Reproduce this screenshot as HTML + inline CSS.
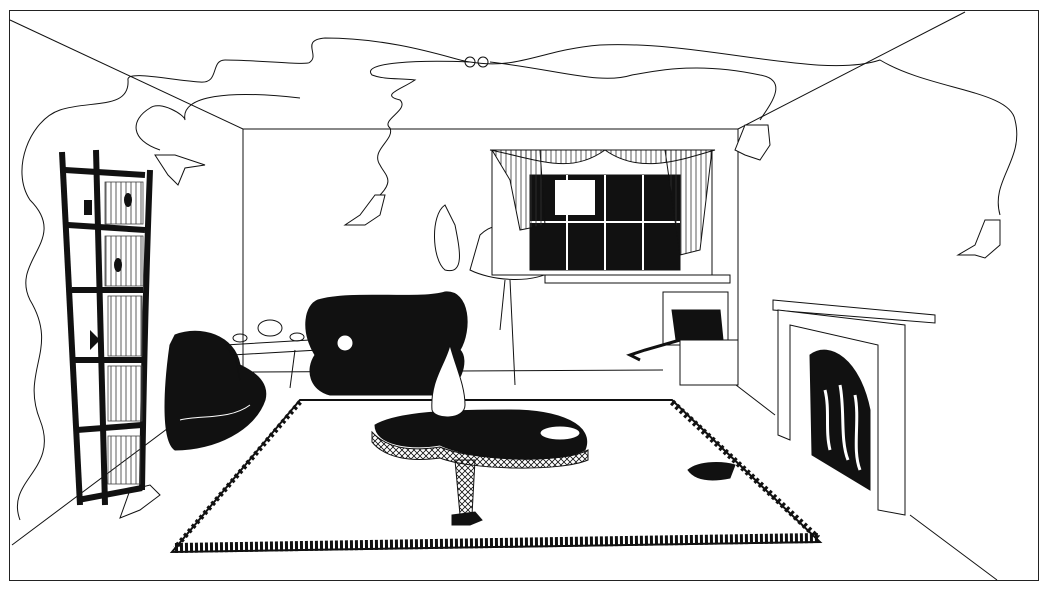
<!DOCTYPE html>
<html><head><meta charset="utf-8"><style>
html,body{margin:0;padding:0;background:#fff;}
svg{display:block;}
</style></head><body>
<svg width="1050" height="591" viewBox="0 0 1050 591" xmlns="http://www.w3.org/2000/svg" fill="none" stroke="#111" stroke-width="1">
<defs>
<pattern id="net" width="6" height="6" patternUnits="userSpaceOnUse"><path d="M0,0 L6,6 M6,0 L0,6" stroke="#111" stroke-width="0.8"/></pattern>
<pattern id="stripe" width="5" height="10" patternUnits="userSpaceOnUse"><line x1="1" y1="0" x2="1" y2="10" stroke="#333" stroke-width="0.8"/></pattern>
</defs>
<rect x="9.5" y="10.5" width="1029" height="570" stroke="#222"/>
<!-- room lines -->
<line x1="10" y1="20" x2="243" y2="129"/>
<line x1="965" y1="12" x2="738" y2="129"/>
<line x1="243" y1="129" x2="738" y2="129"/>
<line x1="243" y1="129" x2="243" y2="372"/>
<line x1="738" y1="129" x2="738" y2="385"/>
<line x1="243" y1="372" x2="663" y2="370"/>
<line x1="243" y1="372" x2="12" y2="545"/>
<line x1="736" y1="385" x2="775" y2="415"/>
<line x1="910" y1="515" x2="997" y2="580"/>
<!-- ceiling string -->
<path d="M20,520 C5,480 60,470 40,420 C20,370 60,350 30,300 C10,260 70,240 30,200 C10,170 30,120 60,110 C90,100 130,110 128,80 C126,70 170,80 200,82 C220,84 210,60 225,60 C260,60 310,66 310,62 C320,55 300,40 325,38 C400,38 460,62 470,62 C520,70 540,50 600,45 C700,40 820,80 880,60 C930,90 1010,90 1015,120 C1025,160 990,180 1000,215"/>
<path d="M160,150 C130,140 130,120 150,108 C160,100 185,115 185,120 C180,95 230,90 300,98"/>
<path d="M470,62 C420,60 360,62 372,75 C385,80 400,78 415,80 C400,90 380,95 400,100 C410,110 380,120 390,128 C395,140 370,150 380,165 C385,175 395,180 380,195"/>
<path d="M490,62 C560,70 600,85 632,75 C660,70 700,62 760,75 C790,80 770,105 760,120"/>
<circle cx="470" cy="62" r="5"/><circle cx="483" cy="62" r="5"/>
<!-- masks -->
<g fill="#fff" stroke="#111">
<path d="M155,155 L175,155 L205,165 L185,168 L178,185 L168,175 Z"/>
<path d="M375,195 L385,195 L380,215 L365,225 L345,225 L360,215 Z"/>
<path d="M745,125 L768,125 L770,145 L760,160 L745,155 L735,150 Z"/>
<path d="M985,220 L1000,220 L1000,245 L985,258 L975,255 L958,255 L975,245 Z"/>
<path d="M130,490 L150,485 L160,495 L140,510 L120,518 Z"/>
</g>
<!-- bookcase -->
<g stroke="#111" stroke-width="6">
<path d="M62,152 C70,300 75,420 80,505"/><path d="M96,150 C100,300 103,420 105,505"/><path d="M150,170 C145,300 143,420 142,490"/>
<path d="M65,170 L145,175"/><path d="M68,225 L145,230"/><path d="M72,290 L143,290"/><path d="M74,360 L143,360"/><path d="M77,430 L142,425"/><path d="M78,500 L142,488"/>
</g>
<g stroke="#444" stroke-width="0.8"><rect x="105" y="182" width="38" height="42" fill="url(#stripe)"/><rect x="105" y="236" width="38" height="50" fill="url(#stripe)"/><rect x="108" y="296" width="34" height="60" fill="url(#stripe)"/><rect x="108" y="366" width="34" height="55" fill="url(#stripe)"/><rect x="108" y="436" width="32" height="48" fill="url(#stripe)"/></g>
<g fill="#111" stroke="none">
<rect x="84" y="200" width="8" height="15"/><ellipse cx="118" cy="265" rx="4" ry="7"/><ellipse cx="128" cy="200" rx="4" ry="7"/><path d="M90,330 L100,340 L90,350 Z"/>
</g>
<!-- chair -->
<path fill="#111" d="M175,335 C200,325 235,335 240,365 C250,370 270,380 265,400 C255,430 215,450 175,450 C160,440 165,380 170,345 Z"/>
<path stroke="#fff" d="M180,420 C200,415 230,420 250,405"/>
<!-- side table -->
<path d="M225,345 L310,340 L318,350 L232,355 Z"/>
<line x1="235" y1="355" x2="240" y2="380"/><line x1="295" y1="350" x2="290" y2="388"/>
<ellipse cx="270" cy="328" rx="12" ry="8"/><ellipse cx="240" cy="338" rx="7" ry="4"/><ellipse cx="297" cy="337" rx="7" ry="4"/>
<!-- sofa -->
<path fill="#111" d="M318,300 C350,290 420,300 445,292 C470,290 472,330 460,350 C470,360 460,390 440,395 L330,395 C310,390 305,370 315,355 C300,330 305,305 318,300 Z"/>
<circle cx="345" cy="343" r="8" fill="#fff"/>
<!-- flamingo lamp -->
<path fill="#fff" d="M480,235 C500,215 535,225 555,270 C530,285 490,280 470,270 Z"/>
<line x1="510" y1="280" x2="515" y2="385"/><line x1="505" y1="280" x2="500" y2="330"/>
<path d="M445,205 C430,215 432,260 445,270 C465,275 460,250 455,225 Z"/>
<!-- window -->
<rect x="492" y="150" width="220" height="125" fill="#fff"/>
<rect x="530" y="175" width="150" height="95" fill="#111"/>
<g stroke="#fff" stroke-width="2"><line x1="605" y1="175" x2="605" y2="270"/><line x1="530" y1="222" x2="680" y2="222"/><line x1="567" y1="175" x2="567" y2="270"/><line x1="643" y1="175" x2="643" y2="270"/></g>
<rect x="555" y="180" width="40" height="35" fill="#fff" stroke="none"/>
<path fill="url(#stripe)" d="M492,150 L540,150 L545,225 L520,230 L510,180 Z"/>
<path fill="url(#stripe)" d="M665,150 L712,150 L700,250 L680,255 Z"/>
<path fill="url(#stripe)" d="M490,150 C540,160 570,175 605,150 C640,175 680,160 715,150 Z"/>
<rect x="545" y="275" width="185" height="8" fill="#fff"/>
<!-- box -->
<path d="M663,292 L728,292 L728,345 L663,345 Z" fill="#fff"/>
<path fill="#111" d="M672,310 L720,310 L723,340 L676,340 Z"/>
<rect x="680" y="340" width="58" height="45" fill="#fff"/>
<path stroke-width="3" d="M680,340 L645,350 L630,355 L640,360"/>
<!-- rug -->
<path fill="#fff" stroke="#111" stroke-width="2" d="M300,400 L672,400 L820,542 L172,552 Z"/>
<path fill="none" stroke="#111" stroke-width="10" stroke-dasharray="3 2" d="M175,548 L818,538"/>
<path fill="none" stroke="#111" stroke-width="6" stroke-dasharray="3 3" d="M672,402 L818,538"/>
<path fill="none" stroke="#111" stroke-width="5" stroke-dasharray="3 3" d="M300,402 L175,548"/>
<!-- coffee table -->
<path fill="#111" d="M375,425 C400,410 470,410 510,410 C560,410 595,425 585,450 C555,465 470,460 440,445 C410,450 375,445 375,425 Z"/>
<ellipse cx="560" cy="433" rx="20" ry="7" fill="#fff"/>
<path fill="url(#net)" stroke="#111" d="M372,432 C390,452 420,450 440,447 C470,460 560,465 588,450 L588,460 C560,472 470,470 440,458 C410,462 385,458 372,442 Z"/>
<path fill="url(#net)" stroke="#111" d="M455,460 L475,460 L472,515 L460,515 Z"/>
<path fill="#111" d="M452,515 L475,512 L482,520 L470,525 L452,525 Z"/>
<path fill="#fff" d="M432,410 C430,380 445,365 450,345 C455,365 465,385 465,405 C465,420 435,420 432,410 Z"/>
<!-- cat -->
<path fill="#111" d="M688,470 C700,460 725,462 735,465 L730,478 C710,482 695,480 688,470 Z"/>
<!-- fireplace -->
<path fill="#fff" d="M773,300 L935,315 L935,323 L773,310 Z"/>
<path fill="#fff" d="M778,310 L905,325 L905,515 L878,510 L878,345 L790,325 L790,440 L778,435 Z"/>
<path fill="#111" d="M810,355 C830,340 860,360 870,410 L870,490 L812,455 Z"/>
<path stroke="#fff" stroke-width="3" d="M825,390 C830,410 825,430 830,450 M840,385 C845,410 840,440 848,460 M855,395 C860,420 852,450 860,470"/>
</svg>
</body></html>
